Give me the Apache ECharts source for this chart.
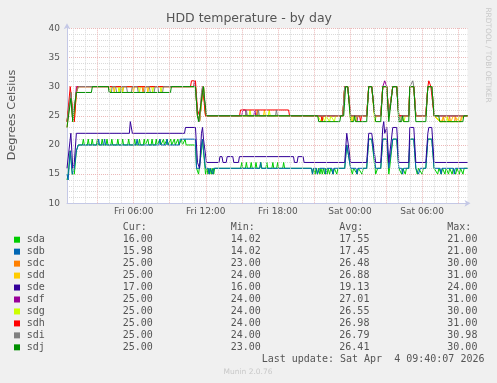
<!DOCTYPE html>
<html><head><meta charset="utf-8">
<script src="https://cdn.jsdelivr.net/npm/echarts@6/dist/echarts.min.js"></script>
<style>html,body{margin:0;padding:0;background:#f0f0f0;}#c{width:497px;height:383px;}</style>
</head><body><div id="c"></div><script>
// ---- data (x = hours since Fri 00:00, y = degrees Celsius) ----
var xMin = 0.45, xMax = 33.78;
var xTickValues = [6, 12, 18, 24, 30];
var xTickLabels = ['Fri 06:00', 'Fri 12:00', 'Fri 18:00', 'Sat 00:00', 'Sat 06:00'];
var hourGridMajor = [3, 6, 9, 12, 15, 18, 21, 24, 27, 30, 33];
var hourGridMinor = [1, 2, 4, 5, 7, 8, 10, 11, 13, 14, 16, 17, 19, 20, 22, 23, 25, 26, 28, 29, 31, 32];

var diskNames = ['sda', 'sdb', 'sdc', 'sdd', 'sde', 'sdf', 'sdg', 'sdh', 'sdi', 'sdj'];
var diskColors = ['#00CC00', '#0066B3', '#FF8000', '#FFCC00', '#330099', '#990099', '#CCFF00', '#FF0000', '#808080', '#008F00'];
var curVals = [16.00, 15.98, 25.00, 25.00, 17.00, 25.00, 25.00, 25.00, 25.00, 25.00];
var minVals = [14.02, 14.02, 23.00, 24.00, 16.00, 24.00, 24.00, 24.00, 24.00, 23.00];
var avgVals = [17.55, 17.45, 26.48, 26.88, 19.13, 27.01, 26.55, 26.98, 26.79, 26.41];
var maxVals = [21.00, 21.00, 30.00, 31.00, 24.00, 31.00, 30.00, 31.00, 30.98, 30.00];

var sda = [[0.45,14],[0.55,15],[0.72,19],[0.89,15],[1.06,15],[1.23,19],[1.39,20],
[1.73,20],[1.81,21],[1.89,20],[2.14,20],[2.22,21],[2.3,20],[2.47,20],[2.55,21],[2.63,20],[2.9,20],[2.98,21],[3.06,20],[3.3,20],[3.38,21],[3.46,20],[3.7,20],[3.78,21],[3.86,20],[4.1,20],[4.18,21],[4.26,20],[4.6,20],[4.68,21],[4.76,20],[5.0,20],[5.08,21],[5.16,20],[5.5,20],[5.58,21],[5.66,20],[6.0,20],[6.08,21],[6.16,20],[6.4,20],[6.48,21],[6.56,20],[6.8,20],[6.88,21],[6.96,20],[7.1,20],[7.18,21],[7.26,20],[7.45,20],[7.53,21],[7.61,20],[7.8,20],[7.88,21],[7.96,20],[8.1,20],[8.18,21],[8.26,20],[8.4,20],[8.48,21],[8.56,20],[8.7,20],[8.78,21],[8.86,20],[9.0,20],[9.08,21],[9.16,20],[9.3,20],[9.38,21],[9.46,20],[9.6,20],[9.68,21],[9.76,20],[9.9,20],[9.98,21],[10.06,20],[10.2,20],[10.28,21],[10.36,20],[10.5,20],
[11.14,20],[11.23,16],[11.4,15],[11.64,19],[11.73,21],[11.81,19],[11.98,15],[12.1,16],[12.18,15],[12.26,16],[12.34,15],[12.42,16],[12.5,15],[12.58,16],[12.66,15],[12.74,16],[14.9,16],[15.0,17],[15.08,16],[15.3,16],[15.38,17],[15.46,16],[15.7,16],[15.78,17],[15.86,16],[16.1,16],[16.18,17],[16.26,16],[16.5,16],[16.58,17],[16.66,16],[17.0,16],[17.08,17],[17.16,16],[17.5,16],[17.58,17],[17.66,16],[17.9,16],[17.98,17],[18.06,16],[18.4,16],[18.48,17],[18.56,16],[18.9,16],
[20.8,16],[20.88,15],[20.96,16],[21.1,15],[21.18,16],[21.3,15],[21.38,16],[21.5,15],[21.58,16],[21.7,15],[21.78,16],[21.9,15],[21.98,16],[22.1,15],[22.18,16],[22.3,15],[22.4,16],[22.6,15],[22.7,16],[22.9,15],[23.0,16],[23.56,16],[23.73,20],[23.81,20],[24.06,16],[24.2,15],[24.3,16],[24.6,15],[24.7,16],[25.0,15],[25.1,16],[25.39,16],[25.56,21],[25.81,21],[26.14,15],[26.3,16],[26.56,16],[26.73,21],[27.06,21],[27.23,15],[27.3,16],[27.39,16],[27.56,21],[27.89,21],[28.06,16],[28.3,15],[28.4,16],[28.6,15],[28.7,16],[28.89,16],[28.98,21],[29.31,21],[29.48,16],[29.6,15],[29.7,16],[30.0,15],[30.1,16],[30.31,16],[30.48,21],[30.81,21],[31.0,16],[31.3,15],[31.4,16],[31.6,15],[31.7,16],[31.9,15],[32.0,16],[32.2,15],[32.3,16],[32.5,15],[32.6,16],[32.8,15],[32.9,16],[33.1,15],[33.2,16],[33.4,15],[33.5,16],[33.78,16]];

var sdb = [[0.45,15],[0.55,14],[0.72,19],[0.89,15],[1.06,16],[1.23,19],[1.39,20],[3.0,20],[3.08,21],[3.16,20],[3.5,20],[3.58,21],[3.66,20],[6.2,20],[6.28,21],[6.36,20],[8.1,20],[8.18,21],[8.26,20],[8.7,20],[8.78,21],[8.86,20],[9.8,20],[9.88,21],[11.14,21],[11.23,16],[11.48,16],[11.64,20],[11.73,21],[11.81,19],[11.98,16],[12.2,16],[12.28,15],[12.36,16],[12.5,16],[12.58,15],[12.66,16],[16.48,16],[16.56,17],[16.64,16],[20.8,16],[20.88,15],[20.96,16],[21.2,16],[21.28,15],[21.4,15],[21.48,16],[21.9,16],[21.98,15],[22.06,16],[22.5,16],[22.58,15],[22.66,16],[23.56,16],[23.73,20],[23.81,20],[24.06,16],[24.5,16],[24.58,15],[24.66,16],[25.39,16],[25.56,21],[25.81,21],[26.14,16],[26.56,16],[26.73,21],[27.06,21],[27.23,16],[27.39,16],[27.56,21],[27.89,21],[28.06,16],[28.3,16],[28.38,15],[28.46,16],[28.89,16],[28.98,21],[29.31,21],[29.48,16],[29.7,15],[29.85,16],[30.31,16],[30.48,21],[30.81,21],[31.0,16],[31.5,16],[31.58,15],[31.66,16],[32.6,16],[32.68,15],[32.76,16],[33.78,16]];

var sdc = [[0.45,23],[0.6,23],[0.77,29],[0.93,24],[1.06,24],[1.23,29],[1.39,30],[5.0,30],[5.08,29],[5.16,30],[6.7,30],[6.78,29],[6.86,30],[11.14,30],[11.31,25],[11.48,24],[11.73,29],[11.81,30],[11.98,25],[16.2,25],[16.28,26],[16.36,25],[23.4,25],[23.56,30],[23.81,30],[24.06,25],[25.39,25],[25.56,30],[25.81,30],[26.06,25],[26.56,25],[26.73,30],[27.06,30],[27.23,25],[27.39,25],[27.56,30],[27.89,30],[28.06,25],[28.89,25],[28.98,30],[29.31,30],[29.48,25],[30.31,25],[30.48,30],[30.81,30],[31.0,25],[31.47,24],[31.7,24],[31.78,25],[31.86,24],[32.2,24],[32.28,25],[32.36,24],[32.7,24],[32.78,25],[32.86,24],[33.2,24],[33.28,25],[33.4,25],[33.78,25]];

var sdd = [[0.45,24],[0.6,24],[0.77,29],[0.93,25],[1.06,24],[1.23,29],[1.39,30],[4.3,30],[4.38,29],[4.46,30],[5.9,30],[5.98,29],[6.06,30],[7.1,30],[7.18,29],[7.26,30],[11.0,30],[11.06,31],[11.14,30],[11.31,25],[11.48,24],[11.73,29],[11.81,30],[11.98,25],[16.8,25],[16.88,26],[16.96,25],[23.4,25],[23.56,30],[23.81,30],[24.06,25],[24.2,24],[24.28,25],[25.39,25],[25.56,30],[25.81,30],[26.06,25],[26.56,25],[26.73,30],[27.06,30],[27.23,25],[27.39,25],[27.56,30],[27.89,30],[28.06,25],[28.89,25],[28.98,30],[29.31,30],[29.48,25],[30.31,25],[30.48,30],[30.81,30],[31.0,25],[31.6,24],[31.8,25],[32.4,24],[32.6,25],[33.2,24],[33.4,25],[33.78,25]];

var sde = [[0.45,16],[0.6,16],[0.77,22],[0.93,16],[1.06,17],[1.23,22],[5.64,22],[5.72,24],[5.81,24],[5.89,22],[10.23,22],[10.31,23],[11.14,23],[11.31,17],[11.48,16],[11.64,22],[11.73,23],[11.81,21],[12.06,17],[13.1,17],[13.18,18],[13.35,18],[13.43,17],[13.7,17],[13.78,18],[14.25,18],[14.33,17],[14.72,17],[14.8,18],[19.3,18],[19.38,17],[19.6,17],[19.68,18],[20.1,18],[20.18,17],[23.56,17],[23.73,22],[23.81,22],[24.06,17],[25.39,17],[25.56,22],[25.81,22],[26.14,17],[26.56,17],[26.73,23],[26.81,24],[26.89,22],[27.06,23],[27.23,17],[27.39,17],[27.56,23],[27.89,23],[28.06,17],[28.89,17],[28.98,23],[29.31,23],[29.48,17],[30.31,17],[30.48,22],[30.56,23],[30.81,23],[31.0,17],[33.78,17]];

var sdf = [[0.45,24],[0.6,24],[0.77,29],[0.93,24],[1.06,25],[1.23,30],[11.0,30],[11.06,31],[11.14,30],[11.31,25],[11.48,24],[11.73,29],[11.81,30],[11.98,25],[15.0,25],[15.08,26],[15.3,26],[15.38,25],[16.0,25],[16.08,26],[16.16,25],[23.4,25],[23.56,30],[23.81,30],[24.06,25],[24.5,25],[24.58,24],[24.66,25],[25.39,25],[25.56,30],[25.81,30],[26.06,25],[26.56,25],[26.73,30],[26.89,31],[27.06,30],[27.23,25],[27.39,25],[27.56,30],[27.89,30],[28.06,25],[28.89,25],[28.98,30],[29.31,30],[29.48,25],[30.31,25],[30.48,30],[30.81,30],[31.0,25],[33.78,25]];

var sdg = [[0.45,24],[0.6,24],[0.77,29],[0.93,24],[1.06,25],[1.23,29],[1.39,30],[3.89,30],[4.06,29],[4.14,30],[4.7,30],[4.78,29],[4.86,30],[5.06,29],[5.14,30],[6.4,30],[6.48,29],[6.56,30],[7.5,30],[7.58,29],[7.66,30],[8.2,30],[8.28,29],[8.36,30],[11.14,30],[11.31,25],[11.48,24],[11.73,29],[11.81,30],[11.98,25],[15.6,25],[15.68,26],[15.76,25],[17.2,25],[17.28,26],[17.36,25],[21.31,25],[21.6,24],[21.68,25],[21.9,24],[22.0,25],[22.3,24],[22.4,25],[22.7,24],[22.8,25],[23.4,25],[23.56,30],[23.81,30],[24.06,24],[24.2,25],[24.5,24],[24.6,25],[25.39,25],[25.56,30],[25.81,30],[26.06,24],[26.2,25],[26.56,25],[26.73,30],[27.06,30],[27.23,25],[27.39,25],[27.56,30],[27.89,30],[28.06,25],[28.5,24],[28.6,25],[28.89,25],[28.98,30],[29.31,30],[29.48,25],[30.31,25],[30.48,30],[30.81,30],[31.0,25],[31.47,24],[32.0,24],[32.08,25],[32.16,24],[33.0,24],[33.08,25],[33.78,25]];

var sdh = [[0.45,24],[0.6,24],[0.72,30],[0.85,30],[0.97,25],[1.06,24],[1.23,29],[1.31,30],[10.73,30],[10.81,31],[11.14,31],[11.31,26],[11.48,25],[11.73,30],[11.81,30],[11.98,25],[14.81,25],[14.89,26],[18.89,26],[18.97,25],[21.6,25],[21.68,24],[21.76,25],[23.4,25],[23.56,30],[23.81,30],[24.06,25],[24.8,25],[24.88,24],[24.96,25],[25.39,25],[25.56,30],[25.81,30],[26.06,25],[26.56,25],[26.73,30],[27.06,30],[27.23,25],[27.39,25],[27.56,30],[27.89,30],[28.06,25],[28.89,25],[28.98,30],[29.31,30],[29.48,25],[30.31,25],[30.48,30],[30.56,31],[30.73,30],[31.0,25],[33.78,25]];

var sdi = [[0.45,24],[0.6,24],[0.77,29],[0.93,25],[1.06,25],[1.23,29],[1.39,30],[3.89,30],[3.97,29],[4.14,29],[4.22,30],[4.5,30],[4.58,29],[4.9,29],[4.98,30],[5.4,30],[5.48,29],[5.8,29],[5.88,30],[6.3,30],[6.38,29],[6.9,29],[6.98,30],[7.3,30],[7.38,29],[7.7,29],[7.78,30],[8.0,30],[8.08,29],[8.4,29],[8.48,30],[11.14,30],[11.31,25],[11.48,24],[11.64,29],[11.73,30],[11.89,28],[12.06,25],[15.3,25],[15.38,26],[15.46,25],[16.3,25],[16.38,26],[16.46,25],[17.8,25],[17.88,26],[17.96,25],[23.4,25],[23.56,30],[23.81,30],[24.06,25],[25.39,25],[25.56,30],[25.81,30],[26.06,25],[26.56,25],[26.73,30],[27.06,30],[27.23,25],[27.39,25],[27.56,30],[27.89,30],[28.06,25],[28.2,24],[28.3,25],[28.89,25],[28.98,30],[29.23,31],[29.31,30],[29.48,25],[30.31,25],[30.48,30],[30.81,30],[31.0,25],[33.78,25]];

var sdj = [[0.45,23],[0.6,23],[0.77,28],[0.93,24],[1.06,24],[1.23,29],[2.48,29],[2.56,30],[3.89,30],[3.97,29],[9.06,29],[9.14,30],[11.14,30],[11.31,25],[11.4,24],[11.56,24],[11.73,29],[11.81,30],[11.89,28],[12.06,25],[21.31,25],[21.4,24],[23.15,24],[23.23,25],[23.48,25],[23.64,30],[23.81,30],[24.06,24],[24.3,24],[24.38,25],[24.46,24],[25.39,24],[25.56,30],[25.81,30],[26.06,25],[26.14,24],[26.56,24],[26.73,30],[27.06,30],[27.23,24],[27.39,24],[27.56,30],[27.89,30],[28.06,24],[28.3,24],[28.38,25],[28.46,24],[28.89,24],[28.98,30],[29.31,30],[29.48,24],[30.31,24],[30.48,30],[30.81,30],[31.0,25],[31.39,25],[31.47,24],[33.39,24],[33.47,25],[33.78,25]];

var diskData = [sda, sdb, sdc, sdd, sde, sdf, sdg, sdh, sdi, sdj];

// ---- chart ----
var chart = echarts.init(document.getElementById('c'), null, {renderer: 'canvas'});
var MAJOR = '#ebb8b8', MINOR = '#d9d9d9', AXIS = '#c4c8e6', TXT = '#555555';
var sans = 'DejaVu Sans', mono = 'DejaVu Sans Mono';

var series = [{
  type: 'line', data: [], z: 1, silent: true,
  markLine: {
    silent: true, symbol: ['none', 'none'], label: {show: false}, animation: false,
    data: hourGridMinor.map(function (h) { return {xAxis: h, lineStyle: {color: MINOR, type: [1, 1], width: 1}}; })
      .concat(hourGridMajor.map(function (h) { return {xAxis: h, lineStyle: {color: MAJOR, type: [1, 1], width: 1}}; }))
  }
}];
diskNames.forEach(function (n, i) {
  series.push({
    name: n, type: 'line', data: diskData[i], z: 3, showSymbol: false, symbol: 'none',
    lineStyle: {width: 1, color: diskColors[i]}, itemStyle: {color: diskColors[i]},
    animation: false, silent: true
  });
});

var graphics = [];
function txt(s, x, y, font, fill, align, extra) {
  var g = {type: 'text', x: x, y: y, silent: true,
    style: {text: s, font: font, fill: fill, align: align || 'left', textAlign: align || 'left',
      verticalAlign: 'middle', textVerticalAlign: 'middle'}};
  if (extra) for (var k in extra) g[k] = extra[k];
  graphics.push(g);
}
txt('HDD temperature - by day', 249, 19, '12.5px ' + sans, TXT, 'center');
txt('Degrees Celsius', 12, 115, '11.3px ' + sans, TXT, 'center', {rotation: Math.PI / 2});
txt('RRDTOOL / TOBI OETIKER', 488, 55, '7.4px ' + sans, '#c8c8c8', 'center', {rotation: -Math.PI / 2});

var colX = [122.7, 230.7, 339.3, 447.3];
var headers = ['Cur:', 'Min:', 'Avg:', 'Max:'];
var mf = '10px ' + mono;
headers.forEach(function (h, j) { txt(h, colX[j], 227.3, mf, TXT, 'left'); });
diskNames.forEach(function (n, i) {
  var y = 239.7 + i * 11.96;
  graphics.push({type: 'rect', silent: true, shape: {x: 14, y: y - 3, width: 6, height: 6}, style: {fill: diskColors[i]}});
  txt(n, 26.7, y, mf, TXT, 'left');
  [curVals, minVals, avgVals, maxVals].forEach(function (arr, j) {
    txt(arr[i].toFixed(2), colX[j], y, mf, TXT, 'left');
  });
});
txt('Last update: Sat Apr  4 09:40:07 2026', 261.7, 359.3, mf, TXT, 'left');
txt('Munin 2.0.76', 248, 372.3, '7.5px ' + sans, '#c8c8c8', 'center');

chart.setOption({
  backgroundColor: '#f0f0f0',
  animation: false,
  grid: {left: 67, top: 28.3, width: 400.5, height: 175, show: true, backgroundColor: '#ffffff', borderWidth: 0},
  xAxis: {
    type: 'value', min: xMin, max: xMax,
    axisLine: {show: true, lineStyle: {color: AXIS, width: 1}, symbol: ['none', 'arrow'], symbolSize: [5, 6], symbolOffset: [0, 3]},
    axisTick: {show: false},
    splitLine: {show: false},
    axisLabel: {
      customValues: xTickValues, color: TXT, fontFamily: sans, fontSize: 9, margin: 4, hideOverlap: false,
      formatter: function (v) { var k = xTickValues.indexOf(v); return k >= 0 ? xTickLabels[k] : ''; }
    }
  },
  yAxis: {
    type: 'value', min: 10, max: 40, interval: 5,
    axisLine: {show: true, lineStyle: {color: AXIS, width: 1}, symbol: ['none', 'arrow'], symbolSize: [5, 6], symbolOffset: [0, 5]},
    axisTick: {show: false},
    axisLabel: {color: TXT, fontFamily: sans, fontSize: 9, margin: 7},
    splitLine: {show: true, lineStyle: {color: MAJOR, type: [1, 1], width: 1}},
    minorTick: {show: false, splitNumber: 5},
    minorSplitLine: {show: true, lineStyle: {color: MINOR, type: [1, 1], width: 1}}
  },
  graphic: graphics,
  series: series
});
</script></body></html>
